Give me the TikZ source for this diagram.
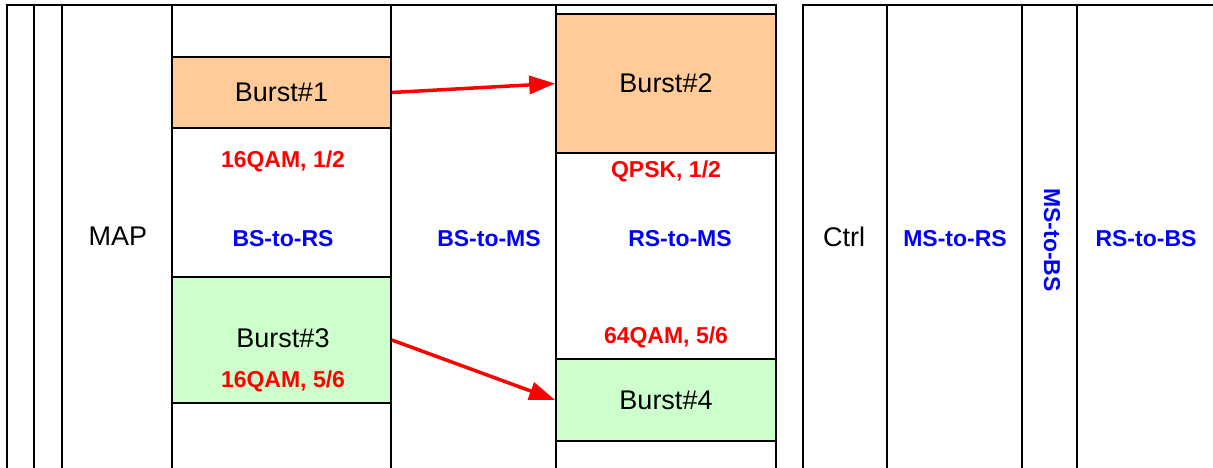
\documentclass[tikz,border=0pt]{standalone}
\usepackage{fontspec}
\setmainfont{Liberation Sans}
\usepackage{tikz}
\usetikzlibrary{arrows.meta}
\usepackage{xcolor}
\definecolor{peach}{HTML}{FFCC99}
\definecolor{mint}{HTML}{CCFFCC}
\definecolor{zoneblue}{HTML}{0000FF}
\definecolor{modred}{HTML}{FF0000}
\begin{document}
\begin{tikzpicture}[x=1pt,y=-1pt,line width=1.6pt,>={Triangle[length=26pt,width=18pt]},
  burst/.style={draw,minimum width=219pt,inner sep=0pt,font=\fontsize{27}{31}\selectfont},
  txt/.style={inner sep=0pt,font=\fontsize{27}{31}\selectfont},
  mod/.style={inner sep=0pt,text=modred,font=\fontsize{23}{27}\selectfont\bfseries},
  zone/.style={inner sep=0pt,text=zoneblue,font=\fontsize{23}{27}\selectfont\bfseries},
  flow/.style={draw=modred,line width=3.5pt}]
  \useasboundingbox (0,0) rectangle (1213,468);
  \draw (7,468) -- (7,5) -- (776,5) -- (776,468);
  \foreach \x in {34,62,172,391,556} \draw (\x,5) -- (\x,468);
  \draw (1213,5) -- (803,5) -- (803,468);
  \foreach \x in {887,1022,1077} \draw (\x,5) -- (\x,468);
  \node[burst,fill=peach,minimum height=71pt] (b1) at (281.5,92.5) {Burst\#1};
  \node[burst,fill=peach,minimum width=220pt,minimum height=139pt] (b2) at (666,83.5) {Burst\#2};
  \node[burst,fill=mint,minimum height=126pt] (b3) at (281.5,340) {};
  \node[burst,fill=mint,minimum width=220pt,minimum height=82pt] (b4) at (666,400) {Burst\#4};
  \node[txt] (map) at (118,236) {MAP};
  \node[txt] (t3) at (283,338) {Burst\#3};
  \node[txt] (ctrl) at (844,237) {Ctrl};
  \node[mod] (m1) at (283,161) {16QAM, 1/2};
  \node[mod] (m3) at (283,381) {16QAM, 5/6};
  \node[mod] (m2) at (666,171) {QPSK, 1/2};
  \node[mod] (m4) at (666,337) {64QAM, 5/6};
  \node[zone] (z1) at (283,239) {BS-to-RS};
  \node[zone] (z2) at (489,239) {BS-to-MS};
  \node[zone] (z3) at (680,239) {RS-to-MS};
  \node[zone] (z4) at (955,239) {MS-to-RS};
  \node[zone,rotate=-90] (z5) at (1052,240) {MS-to-BS};
  \node[zone] (z6) at (1146,239) {RS-to-BS};
  \draw[->,flow] (b1.east) -- (b2.west);
  \draw[->,flow] (b3.east) -- (b4.west);
\end{tikzpicture}
\end{document}
